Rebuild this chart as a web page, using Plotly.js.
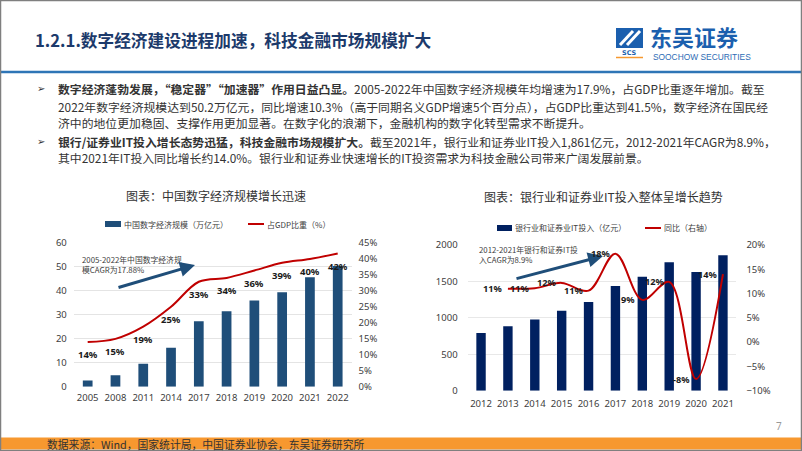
<!DOCTYPE html>
<html><head><meta charset="utf-8">
<script src="https://cdn.plot.ly/plotly-3.0.1.min.js"></script>
<style>html,body{margin:0;padding:0;background:#fff;overflow:hidden}#chart{width:802px;height:451px}</style>
</head><body><div id="chart"></div>
<script>
// ---- Left chart data ----
const yearsA = ['2005','2008','2011','2014','2017','2018','2019','2020','2021','2022'];
const digitalEconomy = [2.6, 4.8, 9.5, 16.2, 27.2, 31.3, 35.8, 39.2, 45.5, 50.2];
const gdpShare = [13.9, 14.9, 18.7, 24.9, 32.7, 33.9, 36.2, 38.6, 39.8, 41.5];
const seriesNamesA = ['中国数字经济规模（万亿元）', '占GDP比重（%）'];
const chartTitleA = '图表：中国数字经济规模增长迅速';
const noteA = '2005-2022年中国数字经济规<br>模CAGR为17.88%';

// ---- Right chart data ----
const yearsB = ['2012','2013','2014','2015','2016','2017','2018','2019','2020','2021'];
const itInvest = [792, 883, 979, 1098, 1217, 1437, 1565, 1762, 1629, 1861];
const yoyYears = ['2013','2014','2015','2016','2017','2018','2019','2020','2021'];
const itYoY = [11.0, 11.1, 12.2, 10.6, 18.2, 8.7, 12.4, -7.6, 14.0];
const seriesNamesB = ['银行业和证券业IT投入（亿元）', '同比（右轴）'];
const chartTitleB = '图表：银行业和证券业IT投入整体呈增长趋势';
const noteB = '2012-2021年银行和证券IT投<br>入CAGR为8.9%';

// ---- Slide texts ----
const slideTitle = '1.2.1.数字经济建设进程加速，科技金融市场规模扩大';
const bodyLines = [
  '<b>数字经济蓬勃发展，“稳定器”“加速器”作用日益凸显。</b>2005-2022年中国数字经济规模年均增速为17.9%，占GDP比重逐年增加。截至',
  '2022年数字经济规模达到50.2万亿元，同比增速10.3%（高于同期名义GDP增速5个百分点），占GDP比重达到41.5%，数字经济在国民经',
  '济中的地位更加稳固、支撑作用更加显著。在数字化的浪潮下，金融机构的数字化转型需求不断提升。',
  '<b>银行/证券业IT投入增长态势迅猛，科技金融市场规模扩大。</b>截至2021年，银行业和证券业IT投入1,861亿元，2012-2021年CAGR为8.9%，',
  '其中2021年IT投入同比增长约14.0%。银行业和证券业快速增长的IT投资需求为科技金融公司带来广阔发展前景。'
];
const bulletLineIdx = [0, 3];
const sourceText = '数据来源：Wind，国家统计局，中国证券业协会，东吴证券研究所';
const pageNum = '7';
const logoCN = '东吴证券';
const logoEN = 'SOOCHOW SECURITIES';

const W = 802, H = 451;
const px = x => x / W;
const py = y => 1 - y / H;
const CJK = 'Noto Sans CJK SC, sans-serif';
const LAT = 'Noto Sans, Noto Sans CJK SC, sans-serif';
const pct = v => (v < 0 ? '-' : '') + Math.round(Math.abs(v)) + '%';

const barA = '#1f4e79', barB = '#002060', red = '#c00000';
const tickFont = {family: LAT, size: 9.5, color: '#404040'};

const traces = [
  {type:'bar', x: yearsA, y: digitalEconomy, name: seriesNamesA[0], xaxis:'x', yaxis:'y', marker:{color: barA}, showlegend:false},
  {type:'scatter', mode:'lines', x: yearsA, y: gdpShare, name: seriesNamesA[1], xaxis:'x', yaxis:'y3', line:{color: red, width: 2, shape:'spline', smoothing: 1}, showlegend:false},
  {type:'bar', x: yearsB, y: itInvest, name: seriesNamesB[0], xaxis:'x2', yaxis:'y2', marker:{color: barB}, showlegend:false},
  {type:'scatter', mode:'lines', x: yoyYears, y: itYoY, name: seriesNamesB[1], xaxis:'x2', yaxis:'y4', line:{color: red, width: 2, shape:'spline', smoothing: 1}, showlegend:false}
];

const ann = [];
const shapes = [];
function txt(x, y, text, opts) {
  ann.push(Object.assign({xref:'paper', yref:'paper', x: px(x), y: py(y), text: text, showarrow:false,
    xanchor:'left', yanchor:'middle', font:{family: CJK, size: 12, color:'#333'}}, opts || {}));
}

// Slide title and logo
txt(33, 40, '<b>' + slideTitle + '</b>', {font:{family: CJK, size: 16.7, color:'#1c3a6b'}});
txt(648, 36, '<b>' + logoCN + '</b>', {font:{family: CJK, size: 22, color:'#1b5fae'}});
txt(651, 57, logoEN, {font:{family:'Liberation Sans Narrow, Liberation Sans, sans-serif', size: 8.4, color:'#2d6cb5'}});
shapes.push({type:'rect', xref:'paper', yref:'paper', x0:px(616), x1:px(643), y0:py(48), y1:py(28), fillcolor:'#1b5fae', line:{width:0}});
shapes.push({type:'line', xref:'paper', yref:'paper', x0:px(620), x1:px(633), y0:py(45), y1:py(31), line:{color:'#fff', width:3}});
shapes.push({type:'line', xref:'paper', yref:'paper', x0:px(627), x1:px(640), y0:py(45), y1:py(31), line:{color:'#fff', width:3}});
txt(629.5, 53, '<b>SCS</b>', {xanchor:'center', font:{family:'DejaVu Sans', size: 6.5, color:'#1b5fae'}});
shapes.push({type:'line', xref:'paper', yref:'paper', x0:px(616), x1:px(643), y0:py(57.5), y1:py(57.5), line:{color:'#f7982f', width:1.5}});

// Blue separator
shapes.push({type:'line', xref:'paper', yref:'paper', x0:0, x1:1, y0:py(72), y1:py(72), line:{color:'#2e75b6', width:2.5}});

// Body text
const lineY = [89, 106, 123, 141, 157];
bodyLines.forEach((t, i) => {
  txt(56, lineY[i], t, {font:{family: CJK, size: 11.85, color:'#333'}});
});
bulletLineIdx.forEach(i => txt(35, lineY[i], '➢', {font:{family:'DejaVu Sans', size: 10, color:'#333'}}));

// Chart titles
txt(216, 195, chartTitleA, {xanchor:'center', font:{family: CJK, size: 12, color:'#333'}});
txt(603, 196, chartTitleB, {xanchor:'center', font:{family: CJK, size: 12, color:'#333'}});

// Manual legends
shapes.push({type:'rect', xref:'paper', yref:'paper', x0:px(105), x1:px(121), y0:py(227), y1:py(221), fillcolor: barA, line:{width:0}});
txt(122, 224, seriesNamesA[0], {font:{family: CJK, size: 8, color:'#404040'}});
shapes.push({type:'line', xref:'paper', yref:'paper', x0:px(248), x1:px(264), y0:py(224), y1:py(224), line:{color: red, width:2}});
txt(264.5, 224, seriesNamesA[1], {font:{family: CJK, size: 8, color:'#404040'}});
shapes.push({type:'rect', xref:'paper', yref:'paper', x0:px(497), x1:px(512), y0:py(231), y1:py(225), fillcolor: barB, line:{width:0}});
txt(513, 228, seriesNamesB[0], {font:{family: CJK, size: 8, color:'#404040'}});
shapes.push({type:'line', xref:'paper', yref:'paper', x0:px(645), x1:px(661), y0:py(228), y1:py(228), line:{color: red, width:2}});
txt(661.5, 228, seriesNamesB[1], {font:{family: CJK, size: 8, color:'#404040'}});

// CAGR notes and arrows
txt(80, 264.5, noteA, {font:{family: CJK, size: 7.8, color:'#404040'}, align:'left'});
txt(477, 254.5, noteB, {font:{family: CJK, size: 7.8, color:'#404040'}, align:'left'});
ann.push({xref:'paper', yref:'paper', x:px(195), y:py(265), ax:-78, ay:23, axref:'pixel', ayref:'pixel', text:'', showarrow:true, arrowhead:2, arrowsize:1, arrowwidth:3, arrowcolor:'#1f4e79'});
ann.push({xref:'paper', yref:'paper', x:px(603), y:py(256), ax:-88, ay:23, axref:'pixel', ayref:'pixel', text:'', showarrow:true, arrowhead:2, arrowsize:1, arrowwidth:3, arrowcolor:'#1f4e79'});

// Data labels (category index positions taken from the data arrays)
gdpShare.forEach((v, i) => ann.push({xref:'x', yref:'y3', x: yearsA.indexOf(yearsA[i]), y: v, text:'<b>' + pct(v) + '</b>', showarrow:false, yshift:-12.5, font:{family: LAT, size: 9.5, color:'#1a1a1a'}}));
itYoY.forEach((v, i) => ann.push({xref:'x2', yref:'y4', x: yearsB.indexOf(yoyYears[i]), y: v, text:'<b>' + pct(v) + '</b>', showarrow:false, xshift:-14.5, font:{family: LAT, size: 9.2, color:'#1a1a1a'}}));

// Footer
shapes.push({type:'rect', xref:'paper', yref:'paper', x0:0, x1:1, y0:py(449.5), y1:py(437.5), fillcolor:'#f7982f', line:{width:0}});
txt(45, 443.5, sourceText, {font:{family: CJK, size: 10.8, color:'#333'}});
txt(779, 426, pageNum, {xanchor:'center', font:{family: LAT, size: 10, color:'#999'}});

// Frame
shapes.push({type:'rect', xref:'paper', yref:'paper', x0:0, x1:1, y0:0, y1:1, line:{color:'#7f7f7f', width:2.5}, fillcolor:'rgba(0,0,0,0)'});

function yax(extra) {
  return Object.assign({tickfont: tickFont, zeroline:false, showline:false, ticks:'', ticklabelstandoff: 6, fixedrange:true}, extra);
}
function xax(extra) {
  return Object.assign({type:'category', categoryorder:'array', tickfont: tickFont, showgrid:false, showline:false, zeroline:false, ticks:'', range:[-0.5, 9.5], fixedrange:true}, extra);
}
const layout = {
  width: W, height: H, margin:{l:0, r:0, t:0, b:0}, paper_bgcolor:'#fff', plot_bgcolor:'rgba(0,0,0,0)',
  showlegend:false, bargap: 0.65, font:{family: LAT},
  xaxis: xax({domain:[px(73.8), px(351.6)], anchor:'y', categoryarray: yearsA, ticklabelstandoff: 4}),
  yaxis: yax({domain:[py(386.7), py(242.3)], anchor:'x', range:[0, 60], dtick:10, gridcolor:'#e4e4e4', gridwidth:1}),
  yaxis3: yax({overlaying:'y', anchor:'x', side:'right', range:[0, 45], dtick:5, ticksuffix:'%', showgrid:false}),
  xaxis2: xax({domain:[px(467.6), px(736.4)], anchor:'y2', categoryarray: yearsB, ticklabelstandoff: 6}),
  yaxis2: yax({domain:[py(390.7), py(245)], anchor:'x2', range:[0, 2000], dtick:500, gridcolor:'#e8e8e8', gridwidth:1, ticklabelstandoff: 9}),
  yaxis4: yax({overlaying:'y2', anchor:'x2', side:'right', range:[-10, 20], dtick:5, ticksuffix:'%', showgrid:false, ticklabelstandoff: 9}),
  annotations: ann, shapes: shapes
};
Plotly.newPlot('chart', traces, layout, {displayModeBar:false, staticPlot:true});
</script></body></html>
